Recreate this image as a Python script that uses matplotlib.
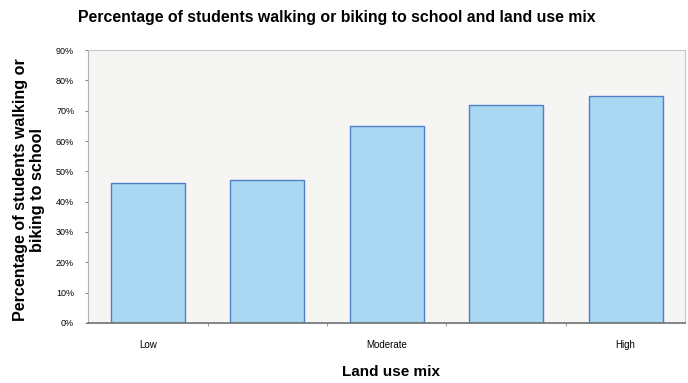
import matplotlib
matplotlib.use("Agg")
import matplotlib.pyplot as plt
import numpy as np

# values
categories = ["Low", "", "Moderate", "", "High"]
share_walk_bike = [46, 47, 65, 72, 75]
y_ticks = [0, 10, 20, 30, 40, 50, 60, 70, 80, 90]

plt.rcParams['font.family'] = ['Liberation Sans', 'DejaVu Sans']

fig = plt.figure(figsize=(6.88, 3.83), dpi=100)
ax = fig.add_axes([0.128, 0.157, 0.868, 0.712])
ax.set_facecolor("#f5f5f3")

x = np.arange(len(categories))
ax.bar(x, share_walk_bike, width=0.62, color="#a9d8f2",
       edgecolor="#4f7fc4", linewidth=1.0, zorder=2)

ax.set_xlim(-0.5, len(categories) - 0.5)
ax.set_ylim(0, 90)
ax.set_yticks(y_ticks)
ax.set_yticklabels([str(v) + "%" for v in y_ticks], fontsize=6.5)
ax.set_xticks(x)
ax.set_xticklabels(categories, fontsize=7)
ax.tick_params(axis="x", length=0, pad=12)
ax.set_xticks(np.arange(0.5, len(categories) - 0.5, 1.0), minor=True)
ax.tick_params(axis="x", which="minor", length=2, color="#888888")
ax.tick_params(axis="y", length=2, color="#888888", pad=8)

for side in ["top", "right"]:
    ax.spines[side].set_color("#c8c8c8")
    ax.spines[side].set_linewidth(0.8)
ax.spines["left"].set_color("#b0b0b0")
ax.spines["bottom"].set_color("#707070")
ax.spines["bottom"].set_linewidth(1.2)

ax.set_ylabel("Percentage of students walking or\nbiking to school",
              fontsize=11.6, fontweight="bold", linespacing=1.2)
ax.yaxis.set_label_coords(-0.072, 0.488)
ax.set_xlabel("Land use mix", fontsize=11, fontweight="bold")
ax.xaxis.set_label_coords(0.507, -0.155)
fig.text(0.49, 0.955, "Percentage of students walking or biking to school and land use mix",
         ha="center", va="center", fontsize=11.4, fontweight="bold")

fig.savefig("out.png", dpi=100)
